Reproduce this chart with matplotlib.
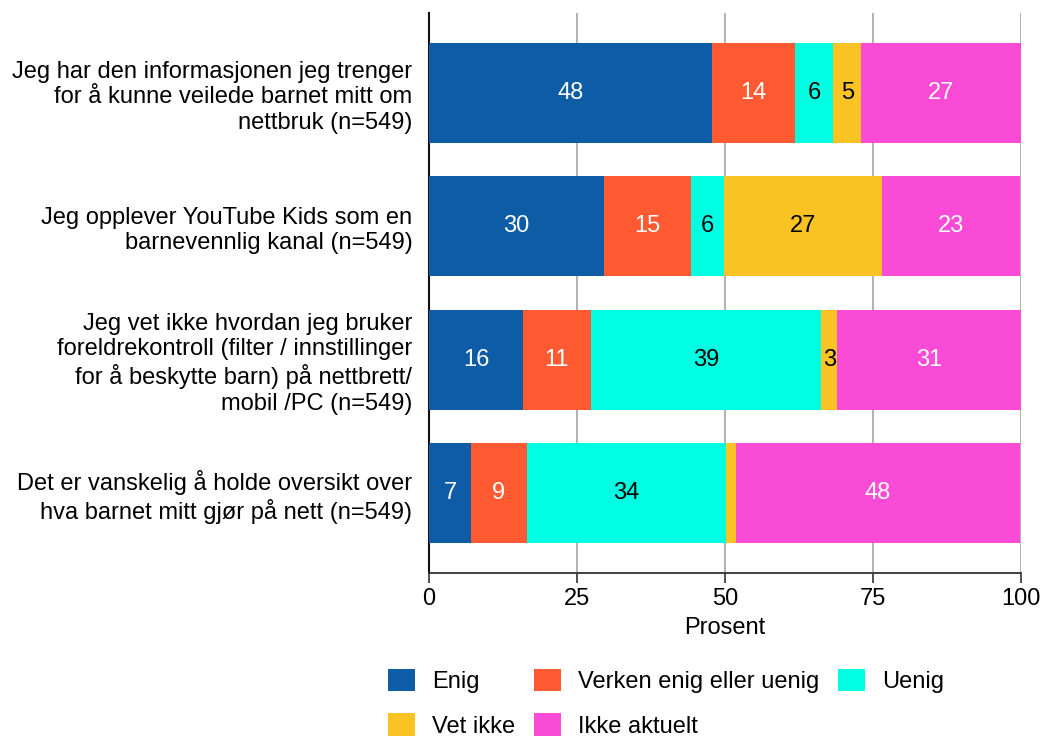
import matplotlib
matplotlib.use("Agg")
import matplotlib.pyplot as plt
import numpy as np

plt.rcParams['font.family'] = ['Liberation Sans', 'DejaVu Sans']
plt.rcParams['font.size'] = 17

# data (percent)
questions = ["Jeg har den informasjonen jeg trenger\nfor å kunne veilede barnet mitt om\nnettbruk (n=549)",
             "Jeg opplever YouTube Kids som en\nbarnevennlig kanal (n=549)",
             "Jeg vet ikke hvordan jeg bruker\nforeldrekontroll (filter / innstillinger\nfor å beskytte barn) på nettbrett/\nmobil /PC (n=549)",
             "Det er vanskelig å holde oversikt over\nhva barnet mitt gjør på nett (n=549)"]
categories = ["Enig", "Verken enig eller uenig", "Uenig", "Vet ikke", "Ikke aktuelt"]
enig = [47.8, 29.6, 15.9, 7.1]
verken = [14.1, 14.7, 11.4, 9.4]
uenig = [6.4, 5.5, 39.0, 33.7]
vet_ikke = [4.7, 26.7, 2.6, 1.6]
ikke_aktuelt = [27.0, 23.4, 31.1, 48.1]

colors = ["#0F5CA6", "#FF5A32", "#00FFE2", "#F9C323", "#F94BD6"]
text_colors = ["white", "white", "black", "black", "white"]

fig = plt.figure(figsize=(10.41, 7.36), dpi=100)
ax = fig.add_axes([429/1041, 1-573/736, 592/1041, 560/736])

series = [enig, verken, uenig, vet_ikke, ikke_aktuelt]
y = np.arange(len(questions))
left = np.zeros(len(questions))
handles = []
for vals, cat, col, tc in zip(series, categories, colors, text_colors):
    vals = np.array(vals)
    b = ax.barh(y, vals, left=left, height=0.75, color=col, label=cat, zorder=3)
    handles.append(b)
    for yi, (l, v) in enumerate(zip(left, vals)):
        if v >= 2.5:
            ax.text(l + v/2, yi, str(int(round(v))), ha='center', va='center',
                    color=tc, fontsize=17, zorder=4)
    left = left + vals

ax.set_xlim(0, 100)
ax.set_ylim(3.6, -0.6)
ax.set_xticks([0, 25, 50, 75, 100])
ax.set_yticks(y)
ax.set_yticklabels(questions, ha='right')
ax.tick_params(axis='y', length=0, pad=12)
ax.tick_params(axis='x', length=7, width=1.2, color='#333333', pad=4)
ax.xaxis.grid(True, color='#B4B4B4', linewidth=1.5, zorder=0)
ax.set_axisbelow(True)
for s in ['top', 'right']:
    ax.spines[s].set_visible(False)
ax.spines['left'].set_linewidth(1.5)
ax.spines['left'].set_color('#111111')
ax.spines['bottom'].set_linewidth(1.3)
ax.spines['bottom'].set_color('#333333')
ax.set_xlabel("Prosent", labelpad=5)

# legend row-wise order
order = [0, 3, 1, 4, 2]
fig.legend([handles[i] for i in order], [categories[i] for i in order],
           loc='upper left', bbox_to_anchor=(376/1041, 1-657/736), ncol=3,
           frameon=False, borderpad=0, handlelength=1.15, handleheight=1.1,
           handletextpad=0.72, columnspacing=0.8, labelspacing=0.85, fontsize=17)

fig.savefig("out.png", dpi=100)
